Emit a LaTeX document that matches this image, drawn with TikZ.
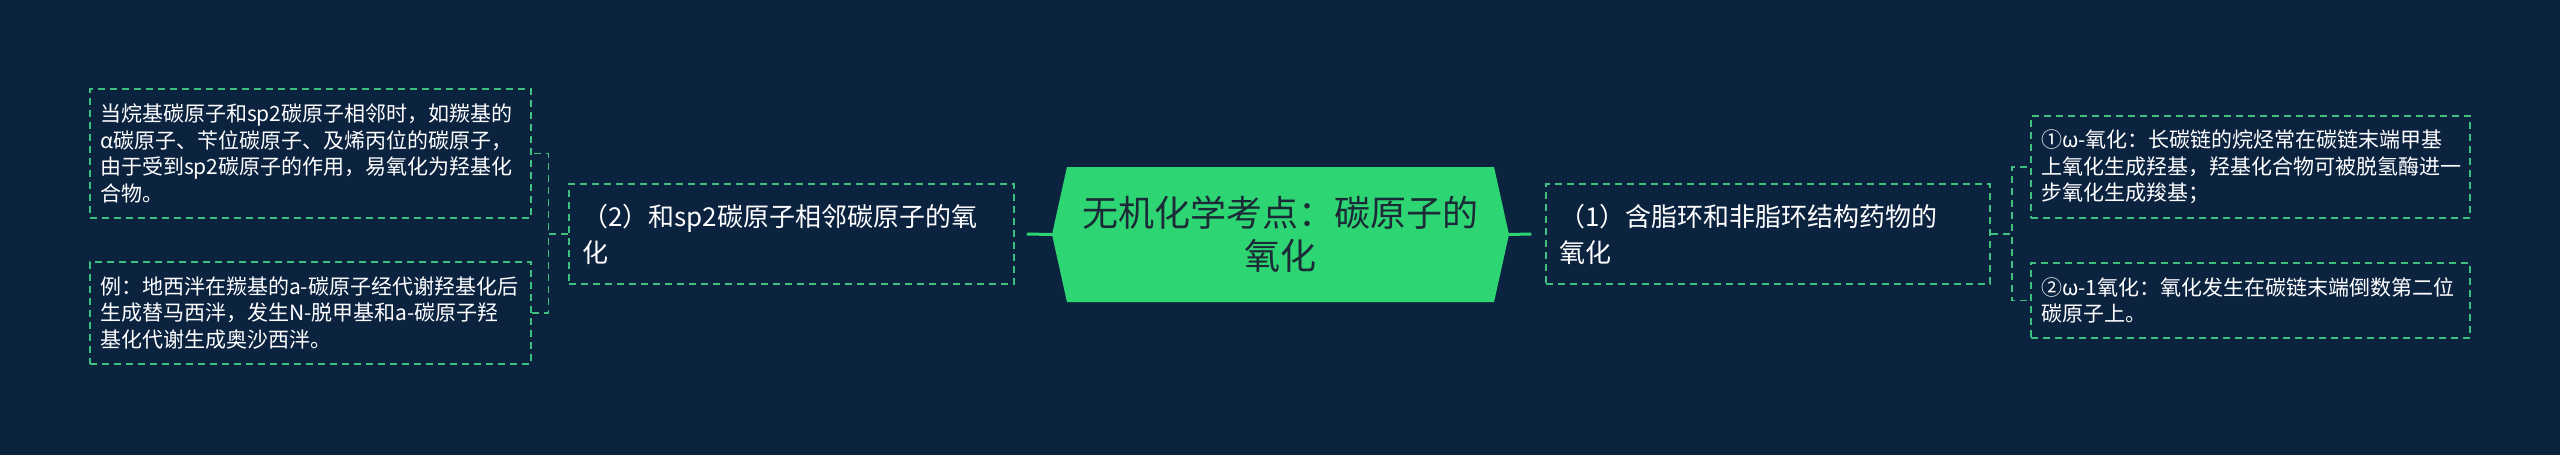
\documentclass[tikz,border=0pt]{standalone}
\usepackage{fontspec}
\setmainfont{Noto Sans CJK SC}
\usetikzlibrary{shapes}
\definecolor{bgnavy}{HTML}{0C2340}
\definecolor{mapgreen}{HTML}{2ED573}
\definecolor{dashgreen}{HTML}{3EC07F}
\definecolor{roottext}{HTML}{1B2A36}

\begin{document}
\begin{tikzpicture}[x=1pt,y=-1pt]
      \tikzstyle{leaf}=[rectangle,draw=dashgreen,line width=1.5pt,dash pattern=on 7pt off 5pt,text=white,align=left,inner xsep=10pt,inner ysep=0pt,font=\fontsize{21}{26.7}\selectfont]
      \tikzstyle{branch}=[leaf,inner xsep=13pt,text width=419pt,minimum height=100pt,font=\fontsize{26}{36}\selectfont]
      \tikzstyle{root}=[signal,signal to=west and east,signal pointer angle=155,fill=mapgreen,text=roottext,align=center,minimum width=457pt,minimum height=135pt,font=\fontsize{36}{43}\selectfont]
      \tikzstyle{thick link}=[draw=mapgreen,line width=3pt]
      \tikzstyle{thin link}=[draw=dashgreen,line width=1.5pt,dash pattern=on 7pt off 5pt]
      \fill[bgnavy] (0,0) rectangle (2560,455);
      \useasboundingbox (0,0) rectangle (2560,455);
      \node[root] (root) at (1280.5,234.5) {无机化学考点：碳原子的\\氧化};
      \node[branch] (two) at (791.5,234) {（2）和sp2碳原子相邻碳原子的氧\\化};
      \node[branch,text width=418pt] (one) at (1768,234) {（1）含脂环和非脂环结构药物的\\氧化};
      \node[leaf,text width=421pt,minimum height=129pt] (la) at (310.5,153.5) {当烷基碳原子和sp2碳原子相邻时，如羰基的\\α碳原子、苄位碳原子、及烯丙位的碳原子，\\由于受到sp2碳原子的作用，易氧化为羟基化\\合物。};
      \node[leaf,text width=421pt,minimum height=102pt] (lb) at (310.5,313) {例：地西泮在羰基的a-碳原子经代谢羟基化后\\生成替马西泮，发生N-脱甲基和a-碳原子羟\\基化代谢生成奥沙西泮。};
      \node[leaf,text width=419pt,minimum height=102pt] (ra) at (2250.5,167) {①ω-氧化：长碳链的烷烃常在碳链末端甲基\\上氧化生成羟基，羟基化合物可被脱氢酶进一\\步氧化生成羧基；};
      \node[leaf,text width=419pt,minimum height=75pt] (rb) at (2250.5,300.5) {②ω-1氧化：氧化发生在碳链末端倒数第二位\\碳原子上。};
      \draw[thick link] (root.west) -- ([xshift=12pt]two.east);
      \draw[thick link] (root.east) -- ([xshift=-14pt]one.west);
      \draw[thin link] (two.west) -- ++(-20,0) |- (la.east);
      \draw[thin link] (two.west) -- ++(-20,0) |- (lb.east);
      \draw[thin link] (one.east) -- ++(21,0) |- (ra.west);
      \draw[thin link] (one.east) -- ++(21,0) |- (rb.west);
\end{tikzpicture}
\end{document}
